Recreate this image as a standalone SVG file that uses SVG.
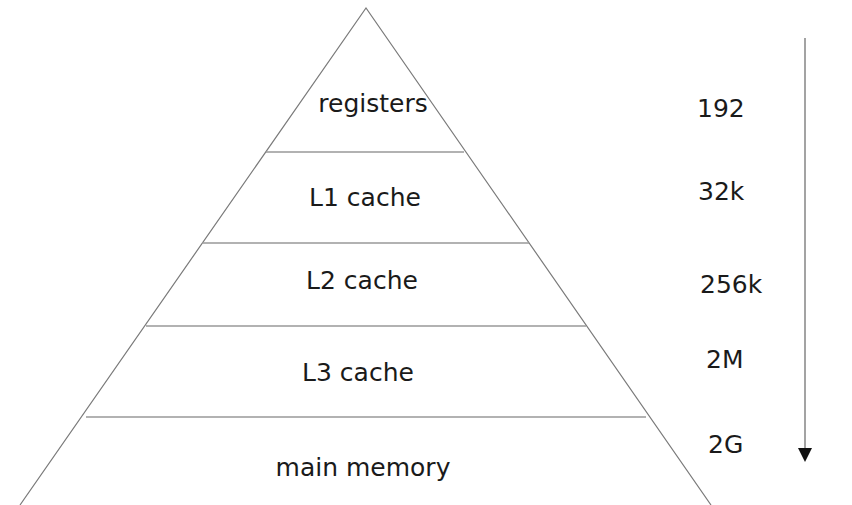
<svg xmlns="http://www.w3.org/2000/svg" width="852" height="505" viewBox="0 0 852 505">
  <style>
    .lbl { font-family: "DejaVu Sans", "Liberation Sans", sans-serif; font-size: 25px; fill: #1a1a1a; }
    .mid { text-anchor: middle; }
    .edge { stroke: #7a7a7a; stroke-width: 1.2; fill: none; }
    .tier { stroke: #999; stroke-width: 1.6; fill: none; }
    .axis { stroke: #999; stroke-width: 1.8; fill: none; }
  </style>
  <defs>
    <marker id="head" viewBox="0 0 14 14" refX="2" refY="7" markerWidth="14" markerHeight="14" markerUnits="userSpaceOnUse" orient="auto">
      <path d="M0,0 L14,7 L0,14 Z" fill="#111"/>
    </marker>
  </defs>
  <rect width="852" height="505" fill="#fff"/>

  <!-- pyramid outline -->
  <g id="pyramid">
    <path class="edge" d="M20,505 L366,8 L711,505"/>
  </g>

  <!-- memory tiers, top to bottom -->
  <g id="registers">
    <text class="lbl mid" x="373" y="112">registers</text>
    <line class="tier" x1="266" y1="152" x2="464" y2="152"/>
  </g>
  <g id="l1">
    <text class="lbl mid" x="365" y="206">L1 cache</text>
    <line class="tier" x1="202" y1="243" x2="529" y2="243"/>
  </g>
  <g id="l2">
    <text class="lbl mid" x="362" y="289">L2 cache</text>
    <line class="tier" x1="146" y1="326" x2="586" y2="326"/>
  </g>
  <g id="l3">
    <text class="lbl mid" x="358" y="381">L3 cache</text>
    <line class="tier" x1="86" y1="417" x2="646" y2="417"/>
  </g>
  <g id="main">
    <text class="lbl mid" x="363" y="476">main memory</text>
  </g>

  <!-- sizes -->
  <g id="sizes">
    <text class="lbl" x="697" y="117">192</text>
    <text class="lbl" x="698" y="200">32k</text>
    <text class="lbl" x="700" y="293">256k</text>
    <text class="lbl" x="706" y="368">2M</text>
    <text class="lbl" x="708" y="453">2G</text>
  </g>

  <!-- size axis -->
  <g id="connectors">
    <line class="axis" x1="805" y1="38" x2="805" y2="450" marker-end="url(#head)"/>
  </g>
</svg>
